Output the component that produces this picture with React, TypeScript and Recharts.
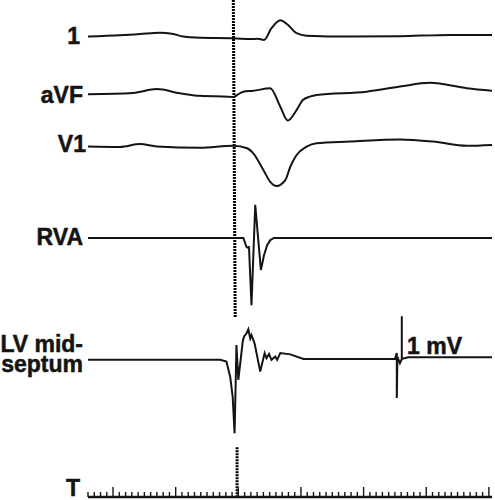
import { ComposedChart, Line, ReferenceLine, XAxis, YAxis } from "recharts";

// time in ms (0 = pacing marker), amplitude in mV
const LEAD_I: [number, number][] = [
  [-240, 0.01], [-189, 0.04], [-157, 0.07], [-125, 0.1], [-106, 0.08], [-88, 0.01],
  [-61, -0.02], [-8, -0.03], [19, -0.05], [31, -0.04], [41, -0.07], [53, 0.21],
  [67, 0.4], [79, 0.29], [93, 0.09], [109, 0.03], [178, 0.01], [258, 0.02],
  [338, 0.05], [405, 0.05],
];
const LEAD_AVF: [number, number][] = [
  [-240, 0.02], [-168, 0.05], [-130, 0.14], [-93, 0.04], [-61, -0.02], [-16, -0.04],
  [-8, -0.05], [-2, 0], [8, 0.08], [24, 0.1], [51, 0.16], [67, -0.28], [79, -0.61],
  [93, -0.36], [103, -0.12], [114, -0.04], [125, 0], [205, 0.08], [258, 0.2],
  [306, 0.29], [365, 0.16], [405, 0.1],
];
const LEAD_V1: [number, number][] = [
  [-240, 0.01], [-189, 0.0], [-157, 0.07], [-130, 0.01], [-61, -0.02], [-8, 0.03],
  [14, -0.03], [24, -0.15], [40, -0.55], [51, -0.83], [61, -0.93], [75, -0.79],
  [83, -0.47], [93, -0.19], [109, 0.01], [125, 0.09], [178, 0.13], [258, 0.18],
  [311, 0.13], [365, 0.03], [405, 0.05],
];
const RVA: [number, number][] = [
  [-240, 0], [8, 0], [13, -0.21], [16, -0.24], [17, -0.2], [21, -1.6], [27, 0.79],
  [36, -0.76], [41, -0.41], [46, -0.17], [51, -0.05], [57, 0], [405, 0],
];
// includes the 1 mV calibration pulse near the end
const LV_SEPTUM: [number, number][] = [
  [-240, -0.02], [-29, -0.02], [-19, -0.06], [-13, -0.42], [-9, -0.9], [-6, -1.77],
  [-4, -0.42], [-3, 0.33], [0, -0.5], [7, 0.41], [9, 0.53], [13, 0.61], [16, 0.71],
  [19, 0.49], [21, 0.57], [26, 0.37], [35, -0.3], [42, 0.14], [45, 0.02], [49, 0.12],
  [53, -0.02], [59, 0.06], [62, -0.02], [67, 0.14], [83, 0.11], [104, 0], [130, 0],
  [250, 0], [253, 0.14], [253, -0.93], [254, 0.05], [258, -0.1], [261, 0], [261, 1.02],
  [261, 0], [271, 0.04], [405, 0.04],
];

const TRACE_NAMES = ["1", "aVF", "V1", "RVA"];
const LV_NAME = ["LV mid-", "septum"];
const TIME_LABEL = "T";
const CAL_LABEL = "1 mV";
const TIME_TICKS = Array.from({ length: 65 }, (_, i) => -240 + i * 10);

const W = 495;
const H = 500;
const AXIS_H = 3;
const MARGIN = { top: 0, right: 3, bottom: 0, left: 88 };
const PLOT_H = H - MARGIN.top - MARGIN.bottom - AXIS_H;
const PX_PER_MV = 42;
const INK = "#141414";
const FONT = 'bold 23px "Liberation Sans", Arial, sans-serif';

// baseline pixel of each trace
const TRACES = [
  { id: "I", data: LEAD_I, base: 37, curve: "monotone" },
  { id: "aVF", data: LEAD_AVF, base: 95, curve: "monotone" },
  { id: "V1", data: LEAD_V1, base: 147, curve: "monotone" },
  { id: "RVA", data: RVA, base: 238, curve: "linear" },
  { id: "LV", data: LV_SEPTUM, base: 359, curve: "linear" },
] as const;

const domainFor = (base: number): [number, number] => [
  -(PLOT_H - base) / PX_PER_MV,
  base / PX_PER_MV,
];

const LABELS = [
  { text: TRACE_NAMES[0], right: 80, cy: 36 },
  { text: TRACE_NAMES[1], right: 83, cy: 95 },
  { text: TRACE_NAMES[2], right: 86, cy: 144 },
  { text: TRACE_NAMES[3], right: 83, cy: 237.5 },
  { text: TIME_LABEL, right: 80, cy: 488 },
];

const textStyle = {
  font: FONT,
  lineHeight: "23px",
  color: INK,
  whiteSpace: "nowrap" as const,
  WebkitTextStroke: `0.5px ${INK}`,
};

function TimeTick(props: any) {
  const { x, y, payload } = props;
  const major = payload.value % 100 === 0;
  return (
    <line x1={x} x2={x} y1={y} y2={y - (major ? 10 : 5)} stroke={INK} strokeWidth={1.4} />
  );
}

export default function App() {
  const lvDomain = domainFor(359);
  return (
    <div style={{ position: "absolute", left: 0, top: 0, width: W, height: H, background: "#fff" }}>
      <ComposedChart width={W} height={H} margin={MARGIN}>
        <XAxis
          dataKey="t"
          type="number"
          domain={[-240, 405]}
          allowDataOverflow
          ticks={TIME_TICKS}
          interval={0}
          tickSize={0}
          tickMargin={0}
          tickLine={false}
          tick={TimeTick}
          height={AXIS_H}
          axisLine={{ stroke: INK, strokeWidth: 2.5 }}
        />
        {TRACES.map((tr) => (
          <YAxis
            key={tr.id}
            yAxisId={tr.id}
            type="number"
            domain={domainFor(tr.base)}
            allowDataOverflow
            hide
          />
        ))}
        <ReferenceLine
          yAxisId="LV"
          segment={[{ x: -8, y: lvDomain[1] }, { x: -5, y: 1 }]}
          stroke="#000"
          strokeWidth={3}
          strokeDasharray="2 1"
          ifOverflow="visible"
        />
        <ReferenceLine
          yAxisId="LV"
          segment={[{ x: -2, y: -2.1 }, { x: -2, y: lvDomain[0] }]}
          stroke="#000"
          strokeWidth={3}
          strokeDasharray="2 1"
          ifOverflow="visible"
        />
        {TRACES.map((tr) => (
          <Line
            key={tr.id}
            yAxisId={tr.id}
            data={tr.data.map(([t, mv]) => ({ t, mv }))}
            dataKey="mv"
            type={tr.curve}
            stroke={INK}
            strokeWidth={2}
            dot={false}
            isAnimationActive={false}
          />
        ))}
      </ComposedChart>
      {LABELS.map((l) => (
        <div
          key={l.text}
          style={{
            ...textStyle,
            position: "absolute",
            left: 0,
            width: l.right,
            top: l.cy - 11.5,
            textAlign: "right",
          }}
        >
          {l.text}
        </div>
      ))}
      <div
        style={{
          ...textStyle,
          lineHeight: "20px",
          position: "absolute",
          left: 0,
          width: 83,
          top: 333.5,
          textAlign: "right",
        }}
      >
        {LV_NAME[0]}
        <br />
        {LV_NAME[1]}
      </div>
      <div style={{ ...textStyle, position: "absolute", left: 407, top: 334.5 }}>
        {CAL_LABEL}
      </div>
    </div>
  );
}
